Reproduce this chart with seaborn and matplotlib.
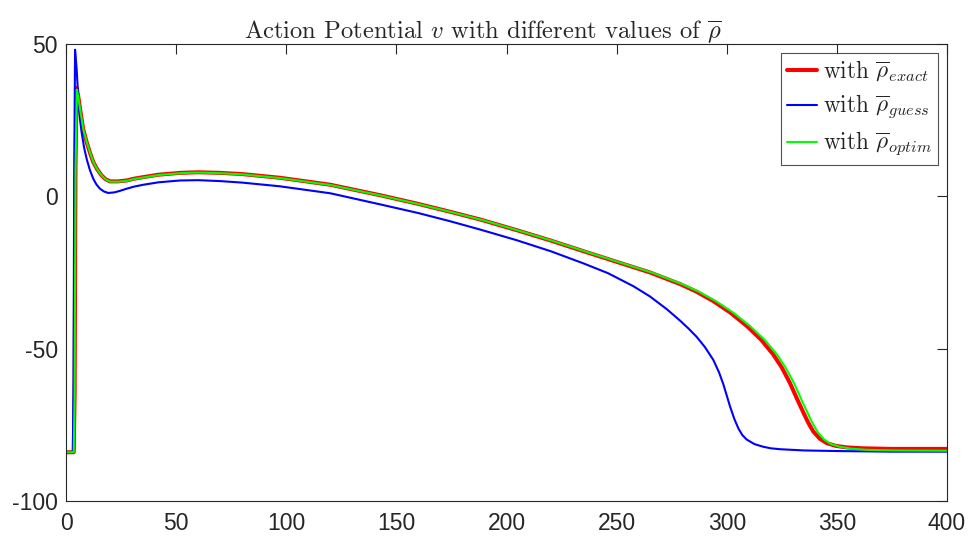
import numpy as np
import pandas as pd
import matplotlib
matplotlib.use("Agg")
import matplotlib.pyplot as plt
import seaborn as sns

# ── Data ───────────────────────────────────────────────────────────────────────
t_exact = [0, 3.5, 3.9, 4.3, 4.8, 5.5, 6.4, 7.8, 9.4, 11.0, 12.4, 14.2, 16.2, 18.0,
           20.0, 23.5, 27.5, 31.0, 35.1, 42.0, 51.8, 60.0, 70.0, 80.0, 97.0, 120.0,
           143.0, 160.0, 174.0, 188.0, 204.6, 220.0, 234.9, 250.0, 265.2, 278.8,
           286.0, 293.9, 301.5, 309.0, 315.5, 321.1, 325.0, 328.7, 331.8, 334.8,
           337.0, 339.3, 342.3, 345.4, 349.5, 354.4, 362.0, 375.0, 400.0]
v_exact = [-84.0, -84.0, -65.0, 10.0, 35.6, 33.0, 28.5, 22.0, 17.7, 14.0, 11.2, 8.8,
           6.8, 5.6, 4.9, 4.9, 5.2, 5.8, 6.3, 7.1, 7.7, 7.9, 7.7, 7.3, 6.1, 3.8,
           0.3, -2.5, -5.0, -7.6, -11.1, -14.5, -18.0, -21.5, -25.0, -28.8,
           -31.2, -34.4, -38.1, -42.5, -47.0, -51.9, -56.2, -61.3, -66.3, -71.0,
           -74.3, -77.2, -79.6, -81.0, -81.9, -82.4, -82.7, -82.9, -82.9]

t_guess = [0, 3.1, 3.4, 3.7, 4.1, 4.8, 5.6, 6.3, 7.1, 8.2, 9.4, 10.8, 12.4, 13.8,
           15.4, 17.2, 19.2, 22.0, 24.5, 27.5, 31.0, 35.1, 42.0, 51.8, 60.0, 70.0,
           80.0, 97.0, 120.0, 143.0, 160.0, 174.0, 188.0, 204.6, 220.0, 234.9,
           246.0, 257.6, 265.0, 272.7, 278.8, 282.5, 286.3, 290.0, 293.9, 296.5,
           298.4, 300.0, 301.5, 303.5, 305.3, 307.0, 309.0, 312.5, 316.6, 320.0,
           324.2, 335.0, 350.0, 375.0, 400.0]
v_guess = [-84.0, -84.0, -60.0, 5.0, 48.1, 42.0, 31.8, 25.5, 20.9, 16.0, 12.2, 8.7,
           5.7, 3.9, 2.5, 1.6, 1.1, 1.3, 1.8, 2.5, 3.2, 3.8, 4.6, 5.2, 5.3, 5.0,
           4.5, 3.3, 1.0, -2.7, -5.5, -8.1, -10.9, -14.4, -18.0, -22.0, -25.2,
           -29.5, -32.8, -37.0, -40.8, -43.3, -46.1, -49.4, -53.7, -57.8, -61.6,
           -65.4, -69.0, -73.2, -76.2, -78.3, -79.8, -81.3, -82.2, -82.7,
           -83.0, -83.4, -83.6, -83.8, -83.8]

t_optim = [0, 3.5, 3.9, 4.3, 4.9, 5.6, 6.5, 7.9, 9.5, 11.1, 12.5, 14.3, 16.3, 18.1,
           20.1, 23.6, 27.6, 31.1, 35.2, 42.1, 51.9, 60.1, 70.1, 80.1, 97.1, 120.2,
           143.3, 160.4, 174.5, 188.6, 205.3, 220.8, 235.8, 251.0, 266.3, 280.0,
           287.3, 295.3, 303.0, 310.6, 317.2, 322.9, 326.8, 330.6, 333.7, 336.7,
           338.9, 341.2, 344.2, 347.3, 351.4, 356.3, 363.5, 376.0, 400.0]
v_optim = [-84.0, -84.0, -66.0, 8.0, 35.0, 32.5, 28.0, 21.8, 17.6, 13.9, 11.1, 8.7,
           6.7, 5.5, 4.8, 4.8, 5.1, 5.7, 6.2, 7.0, 7.6, 7.8, 7.6, 7.2, 6.0, 3.7,
           0.2, -2.6, -5.1, -7.7, -11.2, -14.6, -18.1, -21.6, -25.1, -28.9,
           -31.3, -34.5, -38.2, -42.6, -47.1, -52.0, -56.3, -61.4, -66.4, -71.1,
           -74.4, -77.3, -79.8, -81.3, -82.2, -82.8, -83.2, -83.4, -83.5]

labels = [r"with $\overline{\rho}_{exact}$",
          r"with $\overline{\rho}_{guess}$",
          r"with $\overline{\rho}_{optim}$"]

df = pd.concat([
    pd.DataFrame({"t": t_exact, "v": v_exact, "case": labels[0]}),
    pd.DataFrame({"t": t_guess, "v": v_guess, "case": labels[1]}),
    pd.DataFrame({"t": t_optim, "v": v_optim, "case": labels[2]}),
])

# ── Style ──────────────────────────────────────────────────────────────────────
sns.set_style("white")
plt.rcParams.update({
    "font.family": ["Liberation Sans", "DejaVu Sans"],
    "mathtext.fontset": "cm",
    "axes.unicode_minus": False,
    "axes.edgecolor": "#262626",
    "axes.linewidth": 0.8,
    "xtick.direction": "in",
    "ytick.direction": "in",
    "xtick.color": "#262626",
    "ytick.color": "#262626",
})

colors = {labels[0]: "#ff0000", labels[1]: "#0000ff", labels[2]: "#00ff00"}
widths = {labels[0]: 2.9, labels[1]: 1.5, labels[2]: 1.5}

fig = plt.figure(figsize=(9.71, 5.45), dpi=100)
ax = fig.add_axes([0.068, 0.0807, 0.9073, 0.8386])

for lab in labels:
    sub = df[df["case"] == lab]
    sns.lineplot(data=sub, x="t", y="v", color=colors[lab], lw=widths[lab],
                 estimator=None, sort=False, label=lab, ax=ax)

ax.set_xlim(0, 400)
ax.set_ylim(-100, 50)
ax.set_xticks(range(0, 401, 50))
ax.set_yticks([-100, -50, 0, 50])
ax.set_xlabel("")
ax.set_ylabel("")
ax.tick_params(axis="both", which="both", length=7, width=0.8, labelsize=16.5,
               top=True, right=True, labelcolor="#262626")
ax.tick_params(axis="x", pad=8)
ax.tick_params(axis="y", pad=6)
for s in ax.spines.values():
    s.set_visible(True)

ax.set_title(r"Action Potential $v$ with different values of $\overline{\rho}$",
             family="cmr10", fontsize=17.7, pad=4, x=0.473)

leg = ax.legend(loc="upper right", prop={"family": "cmr10", "size": 16.7},
                frameon=True, fancybox=False, edgecolor="#262626",
                handlelength=1.3, handletextpad=0.25, borderpad=0.25,
                labelspacing=0.36, borderaxespad=0.4)
leg.get_frame().set_linewidth(0.8)

fig.savefig("out.png", dpi=100)
